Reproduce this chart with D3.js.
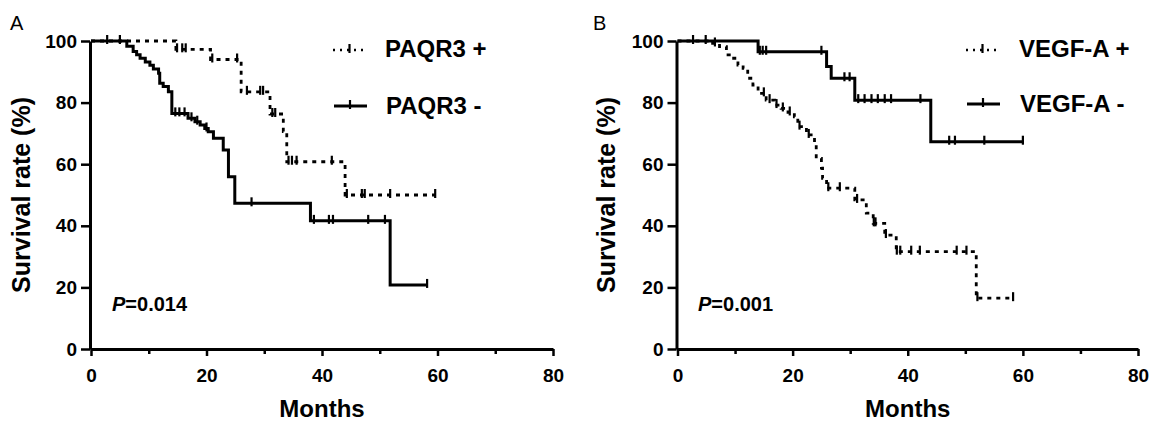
<!DOCTYPE html>
<html>
<head>
<meta charset="utf-8">
<script src="https://cdn.jsdelivr.net/npm/d3@7"></script>
<style>
  html, body { margin: 0; padding: 0; background: #fff; }
  svg { display: block; }
  text { font-family: "Liberation Sans", Arial, sans-serif; fill: #000; }
</style>
</head>
<body>
<svg id="chart" width="1157" height="421"></svg>
<script>
// ---------- DATA ----------
const xTicks = [0, 20, 40, 60, 80];
const xMinorTicks = [10, 30, 50, 70];
const yTicks = [0, 20, 40, 60, 80, 100];

// Panel A
const paqrPosSteps = [[0,100],[14.7,97.3],[20.7,94.0],[26.0,83.5],[31.0,76.3],[33.3,70.6],[33.9,60.8],[44.0,50.0],[59.6,50.0]];
const paqrPosCensor = [14.9,15.8,16.4,21.0,25.3,27.0,29.3,29.8,31.4,31.9,34.2,34.8,35.6,41.7,44.3,46.9,47.4,51.8,59.6];
const paqrNegSteps = [[0,100],[6.2,98.3],[7.3,96.6],[7.9,95.5],[8.5,94.4],[9.4,93.2],[10.2,92.1],[10.8,90.9],[11.7,89.5],[11.9,86.3],[12.5,85.2],[13.4,83.5],[14.0,76.5],[16.8,74.9],[18.0,73.8],[18.9,72.7],[19.7,71.6],[20.3,70.5],[21.2,68.4],[22.9,64.6],[23.8,55.9],[24.9,47.3],[38.0,41.6],[51.8,20.8],[58.2,20.8]];
const paqrNegCensor = [2.8,5.0,14.6,15.3,16.2,17.4,18.4,20.0,27.8,38.6,41.2,41.9,48.0,50.9,58.2];

// Panel B
const vegfPosSteps = [[0,100],[6.1,99.2],[7.3,98.2],[8.5,95.5],[9.0,94.4],[10.5,92.2],[11.4,91.1],[12.2,87.9],[13.1,85.7],[14.0,83.0],[15.4,80.8],[16.9,79.2],[18.0,78.1],[19.2,76.8],[20.3,75.4],[20.9,72.2],[22.4,69.5],[23.8,66.8],[24.1,61.9],[25.0,58.7],[25.2,55.4],[25.9,52.2],[30.8,48.4],[32.8,44.1],[34.0,40.8],[36.0,37.0],[38.0,31.6],[51.9,16.5],[58.3,16.5]];
const vegfPosCensor = [6.5,15.0,16.0,17.2,18.3,19.5,21.2,22.8,26.2,28.2,31.2,34.1,34.4,36.2,38.1,38.7,40.6,42.1,48.5,50.2,52.1,58.3];
const vegfNegSteps = [[0,100],[14.0,96.5],[25.9,91.7],[26.7,87.9],[30.8,80.8],[44.0,67.3],[60.0,67.3]];
const vegfNegCensor = [2.7,4.9,14.3,14.8,15.4,25.0,29.0,29.9,31.4,32.5,33.7,34.8,36.0,37.1,42.2,47.2,48.2,53.3,60.0];

const panelLetters = ["A", "B"];
const legendA = ["PAQR3 +", "PAQR3 -"];
const legendB = ["VEGF-A +", "VEGF-A -"];
const pValues = ["0.014", "0.001"];
const xTitle = "Months";
const yTitle = "Survival rate (%)";

// ---------- DRAWING ----------
const svg = d3.select("#chart");

function survAt(steps, t) {
  let v = steps[0][1];
  for (const s of steps) { if (s[0] <= t + 1e-9) v = s[1]; }
  return v;
}

function drawPanel(cfg) {
  const g = svg.append("g");
  const x = d3.scaleLinear().domain([0, 80]).range([cfg.x0, cfg.x1]);
  const y = d3.scaleLinear().domain([0, 100]).range([349, 41]);

  g.append("text").attr("x", cfg.letterX).attr("y", 30)
    .style("font-size", "20px").text(cfg.letter);

  const ya = g.append("g").attr("transform", `translate(${x(0) - 1},0)`)
    .call(d3.axisLeft(y).tickValues(yTicks).tickSize(9).tickSizeOuter(0).tickPadding(4));
  const xa = g.append("g").attr("transform", `translate(0,${y(0)})`)
    .call(d3.axisBottom(x).tickValues(xTicks).tickSize(7).tickSizeOuter(0).tickPadding(13));
  const xm = g.append("g").attr("transform", `translate(0,${y(0)})`)
    .call(d3.axisBottom(x).tickValues(xMinorTicks).tickSize(5).tickSizeOuter(0).tickFormat(""));
  xm.select(".domain").remove();
  [ya, xa, xm].forEach(a => {
    a.select(".domain").attr("stroke", "#000").attr("stroke-width", 3);
    a.selectAll(".tick line").attr("stroke", "#000").attr("stroke-width", 2.5);
    a.selectAll(".tick text").style("font-size", "19px").style("font-weight", "bold")
      .style("font-family", '"Liberation Sans", Arial, sans-serif').attr("fill", "#000");
  });

  g.append("text").attr("transform", `translate(${cfg.yTitleX},${(y(0) + y(100)) / 2}) rotate(-90)`)
    .attr("text-anchor", "middle").attr("dy", "0.35em")
    .style("font-size", "25px").style("font-weight", "bold").text(yTitle);
  g.append("text").attr("x", x(40)).attr("y", 417).attr("text-anchor", "middle")
    .style("font-size", "24px").style("font-weight", "bold").text(xTitle);

  const line = d3.line().x(d => x(d[0])).y(d => y(d[1])).curve(d3.curveStepAfter);

  function curve(steps, censors, dashed) {
    g.append("path").datum(steps).attr("d", line)
      .attr("fill", "none").attr("stroke", "#000")
      .attr("stroke-width", dashed ? 2.8 : 3)
      .attr("stroke-dasharray", dashed ? "4,5" : null);
    g.append("g").selectAll("line").data(censors).join("line")
      .attr("x1", d => x(d)).attr("x2", d => x(d))
      .attr("y1", d => y(survAt(steps, d)) - 6)
      .attr("y2", d => y(survAt(steps, d)) + 3)
      .attr("stroke", "#000").attr("stroke-width", 2.2);
  }
  curve(cfg.posSteps, cfg.posCensor, true);
  curve(cfg.negSteps, cfg.negCensor, false);

  const lg = g.append("g");
  lg.append("line").attr("x1", cfg.legX).attr("x2", cfg.legX + 33).attr("y1", 50).attr("y2", 50)
    .attr("stroke", "#000").attr("stroke-width", 2.4).attr("stroke-dasharray", "2,5");
  lg.append("line").attr("x1", cfg.legX + 16.5).attr("x2", cfg.legX + 16.5).attr("y1", 44).attr("y2", 53)
    .attr("stroke", "#000").attr("stroke-width", 2.2);
  lg.append("line").attr("x1", cfg.legX + 1).attr("x2", cfg.legX + 34).attr("y1", cfg.legY2).attr("y2", cfg.legY2)
    .attr("stroke", "#000").attr("stroke-width", 3);
  lg.append("line").attr("x1", cfg.legX + 17).attr("x2", cfg.legX + 17).attr("y1", cfg.legY2 - 6).attr("y2", cfg.legY2 + 3)
    .attr("stroke", "#000").attr("stroke-width", 2.2);
  lg.append("text").attr("x", cfg.legTextX).attr("y", 57)
    .style("font-size", "24px").style("font-weight", "bold").text(cfg.legend[0]);
  lg.append("text").attr("x", cfg.legTextX + 1).attr("y", cfg.legY2 + 8)
    .style("font-size", "24px").style("font-weight", "bold").text(cfg.legend[1]);

  const pt = g.append("text").attr("x", cfg.pX).attr("y", 311)
    .style("font-size", "20px").style("font-weight", "bold");
  pt.append("tspan").style("font-style", "italic").text("P");
  pt.append("tspan").text("=" + cfg.p);
}

drawPanel({
  letter: panelLetters[0], letterX: 10, x0: 91, x1: 553, yTitleX: 21,
  posSteps: paqrPosSteps, posCensor: paqrPosCensor,
  negSteps: paqrNegSteps, negCensor: paqrNegCensor,
  legend: legendA, legX: 333, legY2: 106, legTextX: 385,
  p: pValues[0], pX: 112
});
drawPanel({
  letter: panelLetters[1], letterX: 593, x0: 677.5, x1: 1138, yTitleX: 606,
  posSteps: vegfPosSteps, posCensor: vegfPosCensor,
  negSteps: vegfNegSteps, negCensor: vegfNegCensor,
  legend: legendB, legX: 966, legY2: 104, legTextX: 1019,
  p: pValues[1], pX: 698
});
</script>
</body>
</html>
